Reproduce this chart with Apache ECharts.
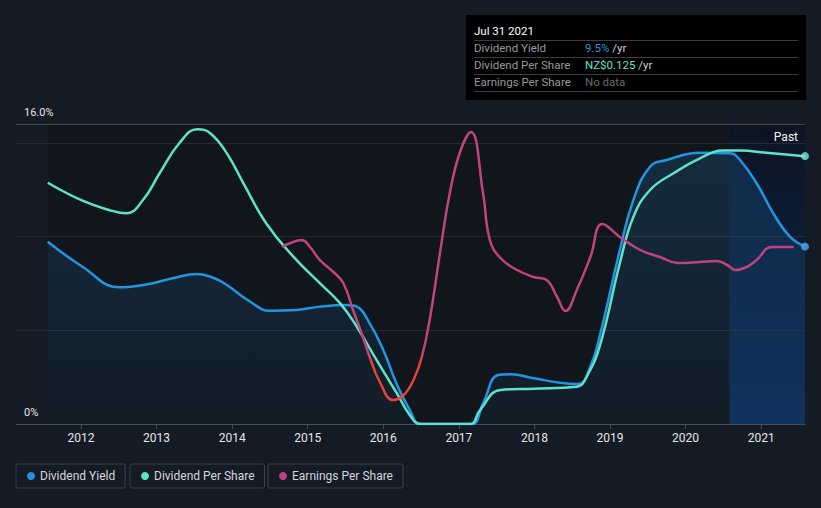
<!DOCTYPE html>
<html>
<head>
<meta charset="utf-8">
<script src="https://cdn.jsdelivr.net/npm/echarts@6/dist/echarts.min.js"></script>
<style>
html,body{margin:0;padding:0;background:#151b25;}
#chart{width:821px;height:508px;}
</style>
</head>
<body>
<div id="chart"></div>
<script>
// ---- data (x = decimal year) ----
const yearTicks = [2012, 2013, 2014, 2015, 2016, 2017, 2018, 2019, 2020, 2021];
const dataStart = 2011.56;
const dataEnd = 2021.58;   // Jul 31 2021
const pastStart = 2020.58;

const dividendYield = [
  [2011.56, 9.72], [2012.02, 8.39], [2012.51, 7.29], [2012.90, 7.47], [2013.21, 7.77],
  [2013.54, 8.00], [2013.75, 7.80], [2013.93, 7.41], [2014.24, 6.52], [2014.50, 6.04],
  [2014.85, 6.08], [2015.16, 6.26], [2015.52, 6.35], [2015.65, 6.26], [2015.82, 5.37],
  [2016.00, 3.95], [2016.18, 2.10], [2016.35, 0.75], [2016.49, 0.00], [2016.80, 0.00],
  [2017.17, 0.00], [2017.32, 1.10], [2017.52, 2.61], [2017.68, 2.65], [2017.99, 2.44],
  [2018.34, 2.20], [2018.58, 2.13], [2018.74, 3.06], [2018.87, 4.80], [2019.13, 9.28],
  [2019.31, 11.95], [2019.53, 13.72], [2019.75, 14.08], [2020.19, 14.47], [2020.59, 14.44],
  [2020.72, 14.08], [2020.94, 12.84], [2021.16, 11.24], [2021.38, 9.99], [2021.58, 9.46]
];

const dividendPerShare = [
  [2011.56, 0.1126], [2012.02, 0.1042], [2012.37, 0.0999], [2012.60, 0.0983], [2012.82, 0.1045],
  [2013.04, 0.1170], [2013.30, 0.1310], [2013.54, 0.1375], [2013.71, 0.1357], [2013.93, 0.1263],
  [2014.15, 0.1123], [2014.45, 0.0937], [2014.81, 0.0781], [2015.16, 0.0657], [2015.43, 0.0563],
  [2015.65, 0.0454], [2015.91, 0.0299], [2016.18, 0.0143], [2016.35, 0.0042], [2016.49, 0.0000],
  [2016.80, 0.0000], [2017.15, 0.0000], [2017.28, 0.0065], [2017.55, 0.0159], [2017.99, 0.0165],
  [2018.56, 0.0174], [2018.69, 0.0220], [2018.87, 0.0370], [2019.13, 0.0750], [2019.31, 0.0967],
  [2019.53, 0.1092], [2019.84, 0.1170], [2020.19, 0.1240], [2020.50, 0.1276], [2020.72, 0.1276],
  [2021.07, 0.1266], [2021.58, 0.1250]
];

const earningsPerShare = [
  [2014.66, 0.110], [2014.77, 0.114], [2014.92, 0.117], [2015.03, 0.110], [2015.16, 0.097],
  [2015.34, 0.085], [2015.47, 0.074], [2015.60, 0.047], [2015.73, 0.020], [2015.82, 0.000],
  [2015.96, -0.026], [2016.13, -0.043], [2016.27, -0.038], [2016.40, -0.023], [2016.51, 0.000],
  [2016.62, 0.040], [2016.75, 0.104], [2016.88, 0.164], [2017.02, 0.206], [2017.16, 0.225],
  [2017.32, 0.164], [2017.41, 0.117], [2017.55, 0.099], [2017.77, 0.087],
  [2017.99, 0.080], [2018.16, 0.077], [2018.30, 0.060], [2018.41, 0.046], [2018.56, 0.067],
  [2018.74, 0.100], [2018.90, 0.133], [2019.13, 0.120], [2019.40, 0.107],
  [2019.66, 0.100], [2019.90, 0.094], [2020.19, 0.095], [2020.41, 0.096], [2020.55, 0.092],
  [2020.66, 0.087], [2020.81, 0.090], [2020.94, 0.097], [2021.14, 0.110], [2021.43, 0.110]
];

const seriesNames = ['Dividend Yield', 'Dividend Per Share', 'Earnings Per Share'];
const yieldAxisTicks = [0, 16];

// ---- styles ----
const C_DY = '#2394df', C_DPS = '#5fe3c8', C_EPS = '#c0437f', C_NEG = '#e8413b';
const FONT = 'Roboto, "Noto Sans", sans-serif';

const chart = echarts.init(document.getElementById('chart'), null, {renderer: 'svg'});

const lastDY = dividendYield[dividendYield.length - 1][1];
const lastDPS = dividendPerShare[dividendPerShare.length - 1][1];

function legend(name, left) {
  return {
    data: [name], left: left, top: 464,
    icon: 'circle', itemWidth: 8, itemHeight: 8, itemGap: 0,
    padding: [6, 10, 6, 11],
    borderColor: '#3b414b', borderWidth: 1, borderRadius: 2,
    textStyle: {color: '#d4d6da', fontSize: 12, fontFamily: FONT}
  };
}

const tipFont = '11.5px ' + FONT;

const option = {
  backgroundColor: '#151b25',
  animation: false,
  textStyle: {fontFamily: FONT},
  grid: {left: 16, right: 16, top: 124, bottom: 84, containLabel: false},
  legend: [legend(seriesNames[0], 16), legend(seriesNames[1], 130), legend(seriesNames[2], 268)],
  xAxis: {
    type: 'value', min: 2011.14, max: dataEnd, z: 3,
    axisLine: {lineStyle: {color: '#4a4f57', width: 1}},
    axisTick: {show: true, length: 5, customValues: yearTicks, lineStyle: {color: '#4a4f57'}},
    axisLabel: {customValues: yearTicks, color: '#e6e6e6', fontSize: 12, margin: 8,
      formatter: v => String(Math.round(v))},
    splitLine: {show: false}
  },
  yAxis: [
    {
      type: 'value', min: 0, max: 16, interval: 5, z: 1.5,
      axisLine: {show: false}, axisTick: {show: false},
      axisLabel: {
        inside: true, verticalAlign: 'bottom', margin: 8, color: '#e6e6e6', fontSize: 11,
        padding: [0, 0, 6, 0],
        formatter: v => v === yieldAxisTicks[1] ? v.toFixed(1) + '%' : (v === yieldAxisTicks[0] ? '0%' : '')
      },
      splitLine: {lineStyle: {color: ['#434850', '#252a33', '#252a33', '#252a33', '#434850'], width: 1}}
    },
    {type: 'value', min: 0, max: 0.14, show: false},
    {type: 'value', min: -0.067, max: 0.233, show: false}
  ],
  visualMap: {
    show: false, type: 'piecewise', seriesIndex: 2, dimension: 1,
    pieces: [{min: -1, max: 0, color: C_NEG}, {gt: 0, lte: 1, color: C_EPS}],
    outOfRange: {color: C_EPS}
  },
  series: [
    {
      name: seriesNames[0], type: 'line', yAxisIndex: 0, data: dividendYield,
      smooth: 0.45, symbol: 'none', color: C_DY,
      lineStyle: {width: 2.5, color: C_DY},
      areaStyle: {color: new echarts.graphic.LinearGradient(0, 0, 0, 1, [
        {offset: 0, color: 'rgba(35,148,223,0.26)'},
        {offset: 1, color: 'rgba(35,148,223,0.08)'}
      ])},
      markArea: {
        silent: true,
        data: [
          [{xAxis: dataStart, itemStyle: {color: '#11151c'}}, {xAxis: dataEnd}],
          [{xAxis: pastStart, itemStyle: {color: new echarts.graphic.LinearGradient(0, 0, 0, 1, [
              {offset: 0, color: '#0c1422'},
              {offset: 0.35, color: '#0d1b33'},
              {offset: 1, color: '#0e2c56'}
            ])},
            label: {show: true, position: 'insideTopRight', distance: 7, formatter: 'Past',
              color: '#f2f2f2', fontSize: 12, fontFamily: FONT}},
           {xAxis: dataEnd}]
        ]
      }
    },
    {
      name: seriesNames[1], type: 'line', yAxisIndex: 1, data: dividendPerShare,
      smooth: 0.45, symbol: 'none', color: C_DPS,
      lineStyle: {width: 2.5, color: C_DPS}
    },
    {
      name: seriesNames[2], type: 'line', yAxisIndex: 2, data: earningsPerShare,
      smooth: 0.45, symbol: 'none', color: C_EPS,
      lineStyle: {width: 2.5}
    },
    {
      type: 'scatter', yAxisIndex: 0, data: [dividendYield[dividendYield.length - 1]],
      symbolSize: 8, itemStyle: {color: '#4aa8ec'}, silent: true, z: 4
    },
    {
      type: 'scatter', yAxisIndex: 1, data: [dividendPerShare[dividendPerShare.length - 1]],
      symbolSize: 8, itemStyle: {color: '#7ae9d3'}, silent: true, z: 4
    }
  ],
  graphic: [
    {type: 'rect', left: 466, top: 15, z: 10, shape: {width: 340, height: 85}, style: {fill: '#000000'}},
    {type: 'text', z: 11, style: {x: 474, y: 31, text: 'Jul 31 2021', fill: '#ffffff', font: tipFont, verticalAlign: 'middle'}},
    {type: 'line', z: 11, shape: {x1: 474, y1: 40.5, x2: 798, y2: 40.5}, style: {stroke: '#3c3c3c', lineWidth: 1}},
    {type: 'text', z: 11, style: {x: 474, y: 48, text: seriesNames[0], fill: '#9a9a9a', font: tipFont, verticalAlign: 'middle'}},
    {type: 'text', z: 11, style: {x: 585, y: 48, text: '{a|' + lastDY.toFixed(1) + '%} {b|/yr}', font: tipFont, verticalAlign: 'middle',
      rich: {a: {fill: C_DY, font: tipFont}, b: {fill: '#cfcfcf', font: tipFont}}}},
    {type: 'line', z: 11, shape: {x1: 474, y1: 57.5, x2: 798, y2: 57.5}, style: {stroke: '#3c3c3c', lineWidth: 1}},
    {type: 'text', z: 11, style: {x: 474, y: 65, text: seriesNames[1], fill: '#9a9a9a', font: tipFont, verticalAlign: 'middle'}},
    {type: 'text', z: 11, style: {x: 585, y: 65, text: '{a|NZ$' + lastDPS.toFixed(3) + '} {b|/yr}', font: tipFont, verticalAlign: 'middle',
      rich: {a: {fill: C_DPS, font: tipFont}, b: {fill: '#cfcfcf', font: tipFont}}}},
    {type: 'line', z: 11, shape: {x1: 474, y1: 74.5, x2: 798, y2: 74.5}, style: {stroke: '#3c3c3c', lineWidth: 1}},
    {type: 'text', z: 11, style: {x: 474, y: 82, text: seriesNames[2], fill: '#9a9a9a', font: tipFont, verticalAlign: 'middle'}},
    {type: 'text', z: 11, style: {x: 585, y: 82, text: 'No data', fill: '#6a6a6a', font: tipFont, verticalAlign: 'middle'}},
    {type: 'line', z: 11, shape: {x1: 474, y1: 91.5, x2: 798, y2: 91.5}, style: {stroke: '#3c3c3c', lineWidth: 1}}
  ]
};

chart.setOption(option);
</script>
</body>
</html>
